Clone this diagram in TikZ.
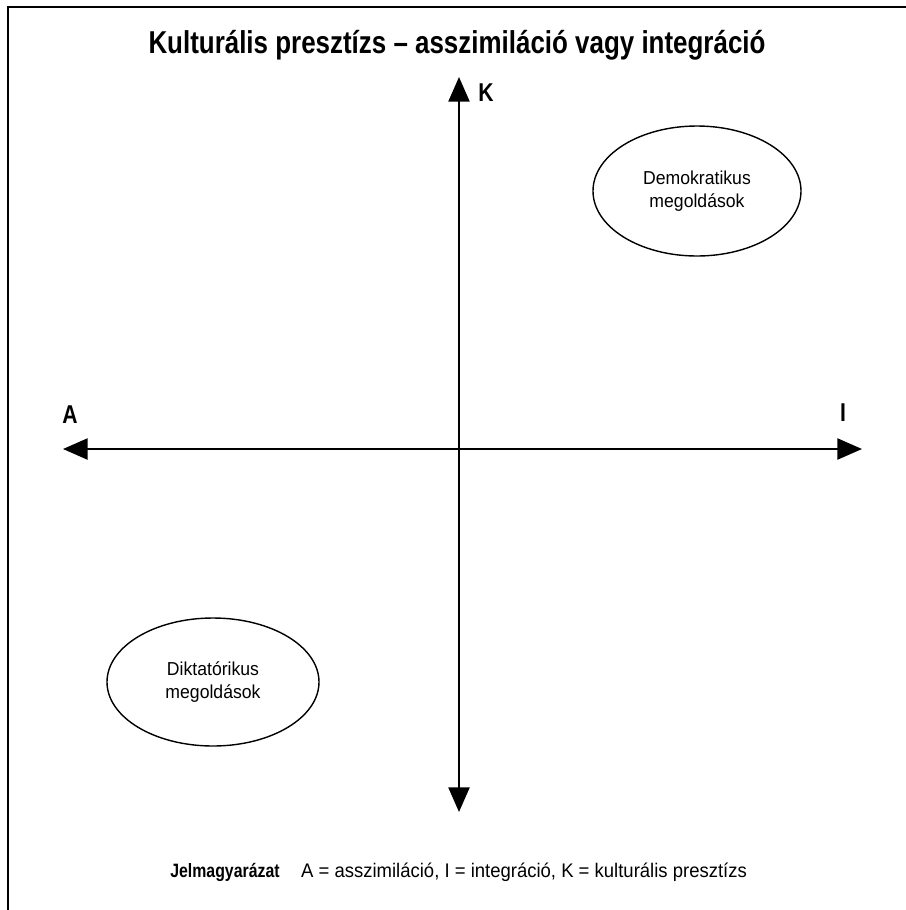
\documentclass[tikz,border=0pt]{standalone}
\usepackage{fontspec}
\setmainfont{Liberation Sans}[FakeStretch=0.94]
\newfontfamily\headfont{Liberation Sans}[FakeStretch=0.82]
\usetikzlibrary{arrows.meta,shapes.geometric}

\tikzset{
 axis/.style={line width=1.6pt, {Triangle[length=21pt,width=18pt]}-{Triangle[length=21pt,width=18pt]}},
 region/.style={draw, ellipse, line width=1.2pt, align=center, inner sep=0pt,
   font=\fontsize{16}{20}\selectfont},
 axislabel/.style={font=\fontsize{22}{26}\selectfont\headfont\bfseries},
}

\begin{document}
\begin{tikzpicture}[x=0.03cm,y=-0.03cm]
 \useasboundingbox (0,0) rectangle (906,910);

 % axis end points
 \coordinate (top) at (459,77);
 \coordinate (bottom) at (459,812);
 \coordinate (left) at (63,449);
 \coordinate (right) at (862,449);

 \coordinate (c1) at (8,910);
 \coordinate (c2) at (8,7);
 \coordinate (c3) at (906,7);

\draw[line width=1.7pt] (c1)--(c2)--(c3);

\draw[axis] (bottom)--(top);
\draw[axis] (left)--(right);

\node [font=\fontsize{27}{30}\selectfont\headfont\bfseries] (title) at (457,45) {Kulturális presztízs – asszimiláció vagy integráció};

\node [axislabel] (K) at (486,93) {K};
\node [axislabel] (A) at (70,415) {A};
\node [axislabel] (I) at (843,413) {I};

\node [region, minimum width=208*0.03cm, minimum height=130*0.03cm] (demo) at (697,191) {Demokratikus\\megoldások};
\node [region, minimum width=212*0.03cm, minimum height=128*0.03cm] (dikt) at (213,682) {Diktatórikus\\megoldások};

\node [font=\fontsize{16.5}{20}\selectfont\headfont\bfseries] (jel) at (225,872) {Jelmagyarázat};
\node [anchor=west, font=\fontsize{16.8}{20}\selectfont] (leg) at (297,872) {A = asszimiláció, I = integráció, K = kulturális presztízs};

\end{tikzpicture}
\end{document}
